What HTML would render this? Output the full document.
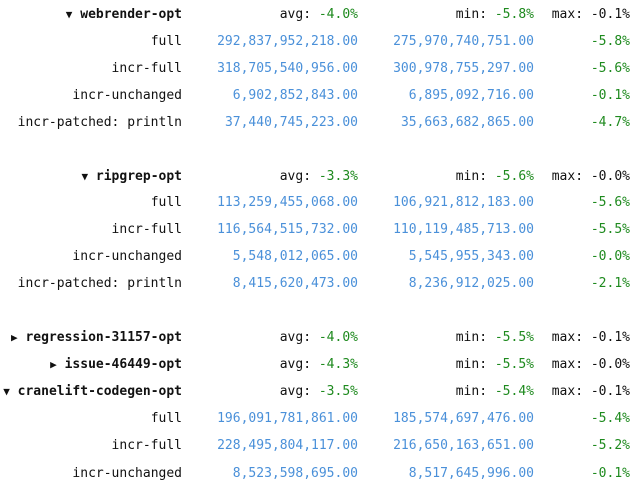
<!DOCTYPE html>
<html><head><meta charset="utf-8"><style>
body{margin:0;width:641px;height:497px;background:#fff;overflow:hidden;font-family:"DejaVu Sans Mono","Liberation Mono",monospace;font-size:13px;color:#111}
.c{position:absolute;white-space:pre;line-height:16px;text-align:right}
.b{font-weight:bold}
.n{color:#4a90d9}
.g{color:#1e8a1e}
</style></head><body>
<div id="t"></div>
<script>
const ys=[14,41,68,95,122,176,202,229,256,283,337,364,391,418,445,473];
const rows=[
 ['h','▼ webrender-opt','-4.0%','-5.8%','-0.1%'],
 ['r','full','292,837,952,218.00','275,970,740,751.00','-5.8%'],
 ['r','incr-full','318,705,540,956.00','300,978,755,297.00','-5.6%'],
 ['r','incr-unchanged','6,902,852,843.00','6,895,092,716.00','-0.1%'],
 ['r','incr-patched: println','37,440,745,223.00','35,663,682,865.00','-4.7%'],
 ['h','▼ ripgrep-opt','-3.3%','-5.6%','-0.0%'],
 ['r','full','113,259,455,068.00','106,921,812,183.00','-5.6%'],
 ['r','incr-full','116,564,515,732.00','110,119,485,713.00','-5.5%'],
 ['r','incr-unchanged','5,548,012,065.00','5,545,955,343.00','-0.0%'],
 ['r','incr-patched: println','8,415,620,473.00','8,236,912,025.00','-2.1%'],
 ['h','▶ regression-31157-opt','-4.0%','-5.5%','-0.1%'],
 ['h','▶ issue-46449-opt','-4.3%','-5.5%','-0.0%'],
 ['h','▼ cranelift-codegen-opt','-3.5%','-5.4%','-0.1%'],
 ['r','full','196,091,781,861.00','185,574,697,476.00','-5.4%'],
 ['r','incr-full','228,495,804,117.00','216,650,163,651.00','-5.2%'],
 ['r','incr-unchanged','8,523,598,695.00','8,517,645,996.00','-0.1%']
];
const rights=[182,358,534,630];
const t=document.getElementById('t');
function cell(html,right,y,name,cls){
 const d=document.createElement('div');
 d.className='c '+(cls||'');
 d.style.right=(641-right)+'px';
 d.style.top=(y-7)+'px';
 d.innerHTML=html;
 
 
 t.appendChild(d);
}
rows.forEach((r,i)=>{
 const y=ys[i];
 if(r[0]==='h'){
  const d=document.createElement('div');
  d.className='c b';d.style.right=(641-rights[0])+'px';d.style.top=(y-7)+'px';
  d.innerHTML='<span style="font-size:11px">'+r[1].slice(0,1)+'</span>'+r[1].slice(1);
  
  
  t.appendChild(d);
  cell('avg: <span class="g">'+r[2]+'</span>',rights[1],y,'avg-change');
  cell('min: <span class="g">'+r[3]+'</span>',rights[2],y,'min-change');
  cell('max: '+r[4],rights[3],y,'max-change');
 }else{
  cell(r[1],rights[0],y,'scenario-label');
  cell(r[2],rights[1],y,'before-value','n');
  cell(r[3],rights[2],y,'after-value','n');
  cell(r[4],rights[3],y,'percent-change','g');
 }
});
</script>
</body></html>
